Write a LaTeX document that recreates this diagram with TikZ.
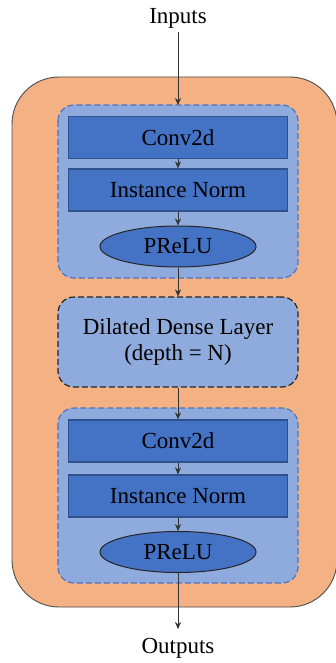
\documentclass[tikz,border=0pt]{standalone}
\usepackage{fontspec}
\setmainfont{Liberation Serif}
\usetikzlibrary{shapes.geometric,arrows.meta}
\definecolor{outerfill}{HTML}{F4B183}
\definecolor{groupfill}{HTML}{8FAADC}
\definecolor{layerfill}{HTML}{4472C4}
\definecolor{layerline}{HTML}{2F528F}
\definecolor{groupline}{HTML}{4F74C0}
\tikzset{
  txt/.style={font=\fontsize{23}{27}\selectfont, text=black},
  layerbox/.style={txt, draw=layerline, line width=1.2pt, fill=layerfill,
    minimum width=219pt, minimum height=42pt, inner sep=0pt},
  actnode/.style={txt, ellipse, draw=black!85, line width=1pt, fill=layerfill,
    minimum width=156pt, minimum height=41pt, inner sep=0pt},
  groupbox/.style={draw=groupline, dash pattern=on 6pt off 3pt, line width=1.2pt,
    fill=groupfill, rounded corners=16pt},
  densebox/.style={txt, draw=black!85, dash pattern=on 6pt off 3pt, line width=1.2pt,
    fill=groupfill, rounded corners=16pt, minimum width=240pt, minimum height=90pt,
    align=center, inner sep=0pt},
  flow/.style={-{Stealth[length=7pt,width=6pt]}, line width=0.5pt, draw=black!80},
}
\begin{document}
\begin{tikzpicture}[x=1pt,y=-1pt]
\useasboundingbox (0,0) rectangle (335,663);
% outer block
\draw[fill=outerfill, draw=black!70, line width=0.9pt, rounded corners=47pt]
  (12,77) rectangle (337,607);
% first conv group
\draw[groupbox] (58,105) rectangle (298,278);
\node[layerbox] (conv1) at (178,137.5) {Conv2d};
\node[layerbox] (norm1) at (178,190) {Instance Norm};
\node[actnode] (act1) at (178,246.5) {PReLU};
\coordinate (g1top) at (178,105);
% dilated dense layer
\node[densebox] (dense) at (178,342) {Dilated Dense Layer\\[-1pt](depth = N)};
% second conv group
\draw[groupbox] (58,408) rectangle (298,583);
\node[layerbox] (conv2) at (178,441) {Conv2d};
\node[layerbox] (norm2) at (178,496) {Instance Norm};
\node[actnode] (act2) at (178,552) {PReLU};
% labels
\node[txt] (inp) at (178,18) {Inputs};
\node[txt] (outp) at (178,648) {Outputs};
\coordinate (outend) at (178,629);
% connectors
\draw[flow] (inp) -- (g1top);
\draw[flow] (conv1) -- (norm1);
\draw[flow] (norm1) -- (act1);
\draw[flow] (act1) -- (dense);
\draw[flow] (dense) -- (conv2);
\draw[flow] (conv2) -- (norm2);
\draw[flow] (norm2) -- (act2);
\draw[flow] (act2) -- (outend);
\end{tikzpicture}
\end{document}
